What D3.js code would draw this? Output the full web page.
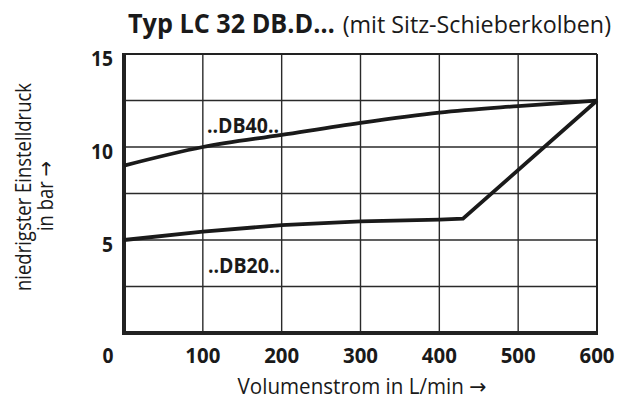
<!DOCTYPE html>
<html>
<head>
<meta charset="utf-8">
<script src="https://cdn.jsdelivr.net/npm/d3@7"></script>
<style>
  body { margin: 0; background: #fff; }
  text { font-family: "Open Sans", sans-serif; fill: #1a1a1a; }
  .arrow { font-family: "DejaVu Sans", sans-serif; }
</style>
</head>
<body>
<div id="chart-area"></div>
<script>
// Data
var xTicks = [0, 100, 200, 300, 400, 500, 600];
var yTicks = [5, 10, 15];
var yGrid = [2.5, 5, 7.5, 10, 12.5];

var flowDB40 = [0, 100, 200, 300, 400, 500, 600];
var pressDB40 = [9.0, 10.0, 10.65, 11.3, 11.85, 12.2, 12.5];

var flowDB20 = [0, 100, 200, 300, 400, 430, 600];
var pressDB20 = [5.0, 5.45, 5.8, 6.0, 6.1, 6.15, 12.5];

var width = 618, height = 405;

var svg = d3.select("#chart-area")
    .append("svg")
        .attr("width", width)
        .attr("height", height);

// Scales
var x = d3.scaleLinear().domain([0, 600]).range([124, 597]);
var y = d3.scaleLinear().domain([0, 15]).range([333, 54]);

// Grid lines
svg.append("g").selectAll("line").data(xTicks.slice(1, -1))
    .enter().append("line")
    .attr("x1", function(d){ return x(d); })
    .attr("x2", function(d){ return x(d); })
    .attr("y1", y(15)).attr("y2", y(0))
    .attr("stroke", "#2a2a2a").attr("stroke-width", 1.4);

svg.append("g").selectAll("line").data(yGrid)
    .enter().append("line")
    .attr("x1", x(0)).attr("x2", x(600))
    .attr("y1", function(d){ return y(d); })
    .attr("y2", function(d){ return y(d); })
    .attr("stroke", "#2a2a2a").attr("stroke-width", 1.4);

// Frame: thin top/right, thick left/bottom
svg.append("line").attr("x1", x(0)).attr("x2", x(600)).attr("y1", y(15)).attr("y2", y(15))
    .attr("stroke", "#222").attr("stroke-width", 2);
svg.append("line").attr("x1", x(600)).attr("x2", x(600)).attr("y1", y(15)).attr("y2", y(0))
    .attr("stroke", "#222").attr("stroke-width", 2);
svg.append("line").attr("x1", x(0)).attr("x2", x(0)).attr("y1", y(15) - 1).attr("y2", y(0) + 2)
    .attr("stroke", "#222").attr("stroke-width", 4);
svg.append("line").attr("x1", x(0) - 2).attr("x2", x(600) + 1).attr("y1", y(0)).attr("y2", y(0))
    .attr("stroke", "#222").attr("stroke-width", 4);

// Curves
var line = d3.line()
    .x(function(d){ return x(d[0]); })
    .y(function(d){ return y(d[1]); });

svg.append("path")
    .datum(d3.zip(flowDB40, pressDB40))
    .attr("d", line.curve(d3.curveMonotoneX))
    .attr("fill", "none").attr("stroke", "#1a1a1a").attr("stroke-width", 3.8);

svg.append("path")
    .datum(d3.zip(flowDB20, pressDB20))
    .attr("d", line.curve(d3.curveLinear))
    .attr("fill", "none").attr("stroke", "#1a1a1a").attr("stroke-width", 3.8)
    .attr("stroke-linejoin", "miter");

// Curve labels
svg.append("text").attr("x", 207).attr("y", 133)
    .attr("font-size", "21px").attr("font-weight", 700)
    .attr("textLength", 72).attr("lengthAdjust", "spacingAndGlyphs")
    .text("..DB40..");
svg.append("text").attr("x", 208).attr("y", 273)
    .attr("font-size", "21px").attr("font-weight", 700)
    .attr("textLength", 72).attr("lengthAdjust", "spacingAndGlyphs")
    .text("..DB20..");

// Y tick labels
svg.append("g").selectAll("text").data(yTicks)
    .enter().append("text")
    .attr("x", 113)
    .attr("y", function(d){ return y(d) + 12; })
    .attr("text-anchor", "end")
    .attr("font-size", "21px").attr("font-weight", 700)
    .attr("textLength", function(d){ return d < 10 ? 11 : 22; })
    .attr("lengthAdjust", "spacingAndGlyphs")
    .text(function(d){ return d; });

// X tick labels
svg.append("g").selectAll("text").data(xTicks)
    .enter().append("text")
    .attr("x", function(d){ return d === 0 ? x(d) - 16 : x(d); })
    .attr("y", 363)
    .attr("text-anchor", "middle")
    .attr("font-size", "21px").attr("font-weight", 700)
    .attr("textLength", function(d){ return d === 0 ? 11 : 35; })
    .attr("lengthAdjust", "spacingAndGlyphs")
    .text(function(d){ return d; });

// Title (squeezed horizontally with a scale so the font looks condensed)
svg.append("text")
    .attr("transform", "translate(128,33) scale(0.97,1)")
    .attr("font-size", "26px").attr("font-weight", 700)
    .text("Typ LC 32 DB.D…");
svg.append("text")
    .attr("transform", "translate(611,33) scale(0.97,1)")
    .attr("text-anchor", "end")
    .attr("font-size", "24px").attr("font-weight", 400)
    .text("(mit Sitz-Schieberkolben)");

// X axis label
var xLab = svg.append("text")
    .attr("transform", "translate(362,394) scale(0.98,1)")
    .attr("text-anchor", "middle")
    .attr("font-size", "21px");
xLab.append("tspan").text("Volumenstrom in L/min ");
xLab.append("tspan").attr("class", "arrow").text("→");

// Y axis label (two lines)
svg.append("text")
    .attr("transform", "translate(31,187) rotate(-90) scale(0.88,1)")
    .attr("text-anchor", "middle")
    .attr("font-size", "21px")
    .text("niedrigster Einstelldruck");
var yLab = svg.append("text")
    .attr("transform", "translate(53,196) rotate(-90) scale(0.88,1)")
    .attr("text-anchor", "middle")
    .attr("font-size", "21px");
yLab.append("tspan").text("in bar ");
yLab.append("tspan").attr("class", "arrow").text("→");
</script>
</body>
</html>
